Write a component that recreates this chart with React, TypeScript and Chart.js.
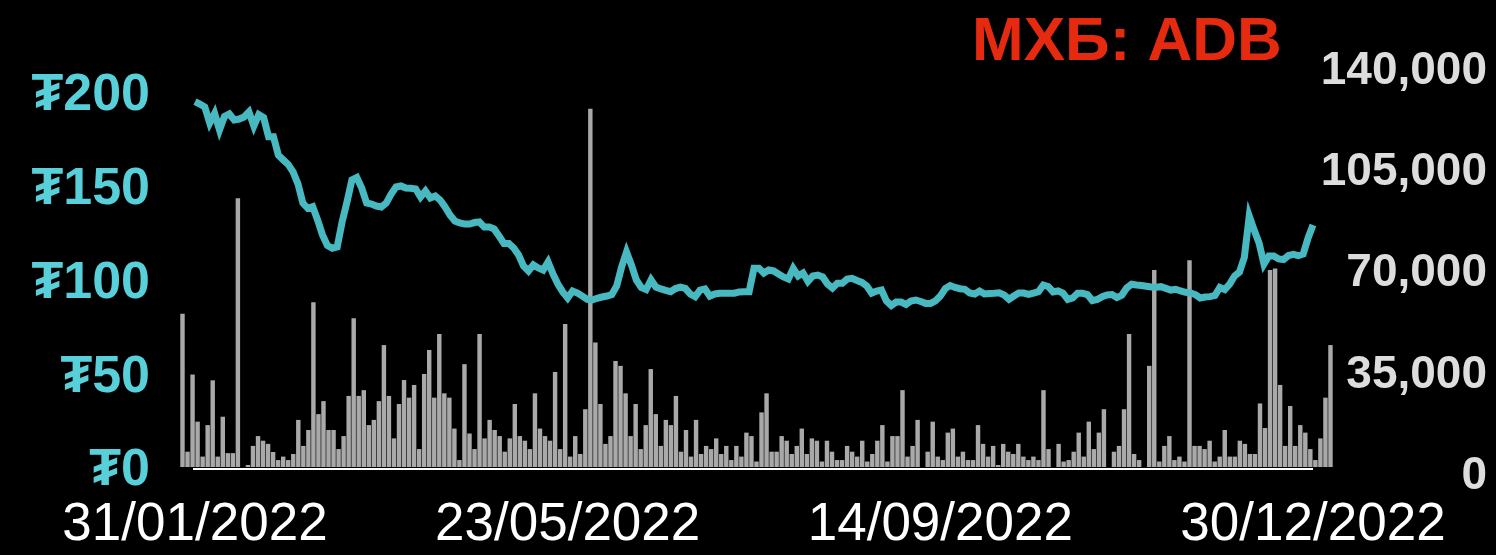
import React, { useEffect, useRef } from 'react';
import { Chart, registerables } from 'chart.js';

Chart.register(...registerables);

// Closing price (₮) per trading day, 31/01/2022 … 30/12/2022
const priceValues = [
  197.0, 195.7, 194.1, 185.6, 190.7, 181.9, 189.1, 190.4, 187.2, 187.7,
  188.8, 191.5, 184.0, 190.1, 188.5, 178.3, 178.3, 168.5, 165.9, 163.5,
  159.5, 153.1, 142.9, 140.1, 141.0, 133.9, 125.9, 120.3, 118.8, 119.5,
  132.8, 143.5, 155.2, 156.5, 150.9, 142.9, 142.4, 141.3, 140.8, 142.9,
  147.7, 151.5, 152.0, 150.9, 150.8, 150.4, 146.1, 149.3, 145.6, 146.7,
  144.5, 140.8, 136.5, 133.3, 132.3, 131.7, 131.7, 132.5, 132.8, 130.1,
  130.1, 129.1, 125.3, 121.4, 121.4, 118.9, 115.2, 109.3, 106.7, 109.9,
  108.3, 107.2, 111.5, 105.1, 99.7, 95.5, 92.3, 96.0, 94.9, 93.3,
  91.5, 91.2, 92.1, 92.8, 93.3, 94.1, 98.7, 108.8, 116.8, 109.9,
  101.9, 97.9, 96.8, 101.9, 98.1, 97.1, 96.3, 95.6, 97.3, 98.1,
  97.4, 94.4, 93.0, 96.5, 97.1, 93.3, 94.4, 94.8, 94.8, 94.8,
  94.8, 95.5, 95.6, 95.6, 108.1, 108.1, 105.6, 107.2, 106.7, 105.1,
  103.5, 102.4, 108.0, 104.0, 105.6, 101.1, 104.0, 104.5, 103.5, 99.7,
  97.6, 100.1, 100.1, 102.4, 102.8, 101.6, 100.6, 98.7, 94.9, 96.0,
  96.5, 90.7, 88.3, 90.1, 90.1, 88.8, 90.7, 91.2, 90.4, 89.4,
  89.4, 90.7, 93.3, 97.3, 98.9, 97.9, 97.2, 96.9, 94.9, 94.4,
  96.0, 94.4, 94.7, 94.8, 95.0, 93.9, 91.6, 93.3, 94.9, 94.9,
  94.2, 94.9, 95.6, 99.2, 98.4, 95.5, 96.0, 94.9, 91.5, 92.3,
  94.8, 94.8, 94.1, 90.9, 91.5, 93.0, 93.9, 94.1, 92.5, 93.7,
  97.6, 99.6, 99.2, 98.9, 98.5, 98.1, 98.0, 98.3, 97.4, 96.5,
  96.9, 96.0, 95.3, 95.0, 94.1, 92.3, 92.8, 93.0, 93.6, 97.9,
  96.8, 99.7, 104.0, 106.1, 114.0, 136.0, 128.5, 121.6, 110.4, 114.7,
  114.7, 113.1, 112.8, 114.9, 115.5, 114.9, 115.7, 124.3, 131.2,
];

// Traded volume per trading day
const volumeValues = [
  53000, 5300, 32000, 15700, 3600, 14500, 30000, 3600, 17400, 4800,
  4800, 93000, 0, 700, 7300, 10700, 9100, 8000, 5200, 2400,
  3600, 2400, 4500, 16300, 7300, 12800, 57000, 18300, 22800, 12800,
  12800, 6200, 10700, 24600, 51500, 24600, 26600, 14500, 16300, 22800,
  42200, 24600, 9900, 21800, 30100, 24000, 28400, 6200, 32200, 40500,
  24000, 46000, 25500, 24000, 13300, 2400, 35600, 11600, 6200, 46000,
  9900, 16300, 12800, 10700, 5300, 9900, 21800, 10700, 9100, 6200,
  25500, 13300, 10700, 9100, 32900, 6200, 49500, 3600, 10700, 4500,
  20000, 124000, 43100, 21800, 8000, 10700, 36700, 35000, 25500, 10700,
  21800, 6200, 14500, 33900, 18300, 7300, 16300, 14500, 24600, 5300,
  12800, 3600, 16300, 4500, 7300, 6200, 9900, 4500, 7300, 2400,
  7300, 3600, 11900, 10700, 1900, 18900, 25500, 5300, 5300, 10700,
  9100, 4500, 7300, 13300, 4500, 9900, 9100, 1900, 9100, 5300,
  2400, 2400, 7300, 5300, 3600, 9100, 1900, 4500, 9100, 14500,
  1900, 10700, 10700, 26600, 3600, 7300, 16300, 0, 5300, 15700,
  3600, 2400, 11900, 13300, 3600, 5300, 2400, 2400, 14500, 8000,
  3600, 7300, 700, 8000, 5300, 4500, 8000, 3600, 2400, 3600,
  2400, 26600, 6200, 0, 8000, 1900, 2400, 5300, 11900, 3600,
  15700, 6200, 11900, 20000, 0, 5300, 7300, 20000, 46000, 4500,
  2400, 0, 35000, 68200, 1900, 7300, 10700, 2400, 3600, 1900,
  71600, 7300, 7300, 6200, 9100, 1900, 3600, 12800, 3600, 3600,
  9100, 8000, 4500, 4500, 22000, 13500, 68200, 68700, 28400, 7300,
  21100, 7300, 14500, 11900, 6200, 2400, 9900, 24000, 42200,
];

const xTickIndices = [0, 76, 152, 228];
const xTickLabels = ['31/01/2022', '23/05/2022', '14/09/2022', '30/12/2022'];
const priceTicks = [0, 50, 100, 150, 200];
const volumeTicks = [0, 35000, 70000, 105000, 140000];
const titleText = 'МХБ: ADB';

const FONT = '"Liberation Sans", Arial, Helvetica, sans-serif';

// layout targets (pixels) used to place the axes like the reference
const LAYOUT = {
  lineFirstPx: 195,
  lineLastPx: 1313,
  barFirstCenterPx: 182.5,
  barPitchPx: 5.035,
  price0Px: 471,
  price200Px: 96,
  vol0LabelPx: 476,
  vol140kLabelPx: 71.5,
  barBasePx: 467,
};

export default function App() {
  const ref = useRef<HTMLCanvasElement>(null);

  useEffect(() => {
    document.body.style.margin = '0';
    document.body.style.background = '#000';
    const canvas = ref.current;
    if (!canvas) return;
    const last = priceValues.length - 1;
    const L = LAYOUT;

    // the volume bars sit on a slightly wider band than the price line:
    // express each bar's slot in the line's index units
    const linePitch = (L.lineLastPx - L.lineFirstPx) / last;
    const barOffset = (L.barFirstCenterPx - L.lineFirstPx) / linePitch;
    const barStep = L.barPitchPx / linePitch;

    // horizontal range set through afterDataLimits (keeps every point drawn)
    const ranges: Record<string, [number, number]> = { x: [-3, last + 4] };
    const setRange = (id: string) => (s: any) => {
      s.min = ranges[id][0];
      s.max = ranges[id][1];
    };

    const decor = {
      id: 'decor',
      beforeDraw(chart: any) {
        const ctx = chart.ctx;
        ctx.save();
        ctx.fillStyle = '#000';
        ctx.fillRect(0, 0, chart.width, chart.height);
        ctx.restore();
      },
      afterDraw(chart: any) {
        const ctx = chart.ctx;
        const xs = chart.scales.x;
        const yv = chart.scales.yv;
        ctx.save();
        ctx.strokeStyle = '#ffffff';
        ctx.lineWidth = 2;
        const y = yv.getPixelForValue(0) + 2;
        ctx.beginPath();
        ctx.moveTo(xs.getPixelForValue(0) - 2, y);
        ctx.lineTo(xs.getPixelForValue(last), y);
        ctx.stroke();
        ctx.font = `bold 62px ${FONT}`;
        ctx.fillStyle = '#e62a10';
        ctx.textAlign = 'center';
        ctx.textBaseline = 'middle';
        ctx.fillText(titleText, 1127, 43);
        ctx.restore();
      },
    };

    const zeroPad = (s: any) => {
      s.paddingLeft = 0;
      s.paddingRight = 0;
      s.paddingTop = 0;
      s.paddingBottom = 0;
    };

    const chart = new Chart(canvas, {
      type: 'bar',
      data: {
        datasets: [
          {
            type: 'line',
            label: 'Price',
            data: priceValues.map((v, i) => ({ x: i, y: v })),
            xAxisID: 'x',
            yAxisID: 'y',
            borderColor: '#48b9c0',
            borderWidth: 7,
            pointRadius: 0,
            tension: 0,
            clip: false,
            order: 0,
          } as any,
          {
            type: 'bar',
            label: 'Volume',
            data: volumeValues.map((v, i) => ({ x: barOffset + i * barStep, y: v })),
            xAxisID: 'x',
            yAxisID: 'yv',
            backgroundColor: '#a9a9a9',
            categoryPercentage: 1,
            barPercentage: 0.88,
            clip: false,
            order: 1,
          } as any,
        ],
      },
      options: {
        responsive: false,
        maintainAspectRatio: false,
        animation: false,
        devicePixelRatio: 1,
        layout: { padding: { top: 40, right: 9, left: 0, bottom: 0 } },
        plugins: {
          legend: { display: false },
          tooltip: { enabled: false },
        },
        scales: {
          x: {
            type: 'linear',
            position: 'bottom',
            bounds: 'data',
            afterDataLimits: setRange('x'),
            grid: { display: false, drawTicks: false },
            border: { display: false },
            afterBuildTicks: (s: any) => {
              s.ticks = xTickIndices.map((v) => ({ value: v }));
            },
            afterFit: (s: any) => {
              s.height = 65;
              zeroPad(s);
            },
            ticks: {
              autoSkip: false,
              maxRotation: 0,
              minRotation: 0,
              padding: 4,
              color: '#ffffff',
              font: { family: FONT, size: 53 },
              callback: (v: any) => {
                const k = xTickIndices.indexOf(Number(v));
                return k >= 0 ? xTickLabels[k] : '';
              },
            },
          },
          y: {
            type: 'linear',
            position: 'left',
            min: -10,
            max: 230,
            grid: { display: false, drawTicks: false },
            border: { display: false },
            afterBuildTicks: (s: any) => {
              s.ticks = priceTicks.map((v) => ({ value: v }));
            },
            afterFit: (s: any) => {
              s.width = 180;
              zeroPad(s);
            },
            ticks: {
              padding: 30,
              color: '#57d0da',
              font: { family: FONT, size: 52, weight: 'bold' },
              callback: (v: any) => '₮' + v,
            },
          },
          y2: {
            type: 'linear',
            position: 'right',
            min: -5000,
            max: 151000,
            grid: { display: false, drawTicks: false },
            border: { display: false },
            afterBuildTicks: (s: any) => {
              s.ticks = volumeTicks.map((v) => ({ value: v }));
            },
            afterFit: (s: any) => {
              s.width = 171;
              zeroPad(s);
            },
            ticks: {
              padding: 0,
              crossAlign: 'far',
              color: '#dddddd',
              font: { family: FONT, size: 46, weight: 'bold' },
              callback: (v: any) => Number(v).toLocaleString('en-US'),
            },
          },
          yv: {
            type: 'linear',
            display: false,
            min: -8000,
            max: 148000,
            afterFit: zeroPad,
          },
        },
      } as any,
      plugins: [decor],
    });

    // calibrate each axis range against the pixel span the scale really occupies
    const lin = (p0: number, v0: number, p1: number, v1: number, pa: number, pb: number) => {
      const b = (p1 - p0) / (v1 - v0);
      const c = p0 - b * v0;
      return [(pa - c) / b, (pb - c) / b] as [number, number];
    };
    const span = (id: string) => {
      const s: any = chart.scales[id];
      return [s.getPixelForValue(s.min), s.getPixelForValue(s.max)];
    };
    const fitV = (id: string, p0: number, v0: number, p1: number, v1: number) => {
      const [pa, pb] = span(id);
      const sc: any = (chart.options.scales as any)[id];
      [sc.min, sc.max] = lin(p0, v0, p1, v1, pa, pb);
    };
    const fitRanges = () => {
      const k = (L.vol0LabelPx - L.vol140kLabelPx) / 140000;
      const [pa, pb] = span('x');
      ranges.x = lin(L.lineFirstPx, 0, L.lineLastPx, last, pa, pb);
      fitV('y', L.price0Px, 0, L.price200Px, 200);
      fitV('y2', L.vol0LabelPx, 0, L.vol140kLabelPx, 140000);
      fitV('yv', L.barBasePx, 0, L.barBasePx - k * 140000, 140000);
      chart.update();
    };
    for (let n = 0; n < 4; n++) fitRanges();

    return () => chart.destroy();
  }, []);

  return (
    <div style={{ width: 1496, height: 555, background: '#000' }}>
      <canvas ref={ref} width={1496} height={555} style={{ display: 'block' }} />
    </div>
  );
}
